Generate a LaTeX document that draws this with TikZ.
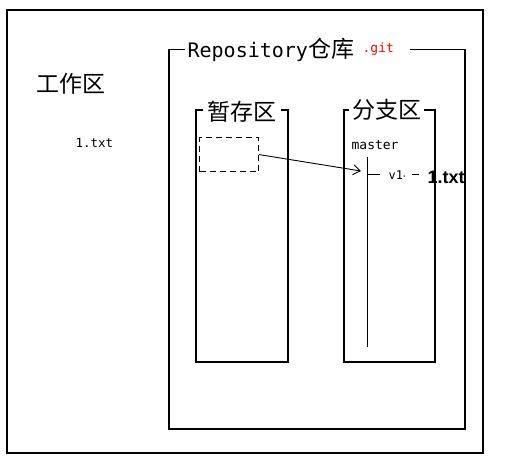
\documentclass[tikz,border=0pt]{standalone}
\usepackage{fontspec}
\setmainfont{DejaVu Sans Mono}
\newfontfamily\cjk{Noto Sans CJK SC}
\newfontfamily\boldsans{Liberation Sans}
\usetikzlibrary{arrows.meta}
\begin{document}
\begin{tikzpicture}[x=1pt,y=-1pt,line width=1.2pt,
  lbl/.style={inner sep=0pt,anchor=base west},
  cjkbig/.style={lbl,font=\cjk\fontsize{23}{23}\selectfont},
  mono/.style={lbl,font=\fontsize{13}{13}\selectfont}]
\useasboundingbox (0,0) rectangle (511,461);
% outer work area
\draw (7,10) rectangle (483,453);
% repository box
\draw (185,49.5) -- (169,49.5) -- (169,429) -- (465,429) -- (465,49.5) -- (410,49.5);
% stage box
\draw (203,110) -- (196,110) -- (196,362) -- (288,362) -- (288,110) -- (281,110);
% branch box
\draw (349,110) -- (344,110) -- (344,362) -- (435,362) -- (435,110) -- (424,110);

\node[cjkbig] (work) at (36,92.5) {工作区};
\node[mono,font=\fontsize{12.5}{12.5}\selectfont] (wfile) at (75,147) {1.txt};
\node[lbl] (repo) at (187,57) {\fontsize{20}{20}\selectfont Repository{\cjk\fontsize{23}{23}\selectfont 仓库}};
\node[mono,text=red] (git) at (362,52) {.git};
\node[cjkbig] (stage) at (207,120.5) {暂存区};
\node[cjkbig] (branch) at (352,118.5) {分支区};
\node[mono] (master) at (351,149) {master};

\node[draw,dash pattern=on 6pt off 4pt,minimum width=59pt,minimum height=34pt,inner sep=0pt,anchor=north west] (sfile) at (199,137) {};

\coordinate (mtop) at (367.5,157);
\coordinate (mbot) at (367.5,347);
\draw (mtop) -- (mbot);
\coordinate (tip) at (361,171);
\draw[-{Straight Barb[length=7pt,width=10pt,line width=0.9pt]},line width=0.9pt] (sfile.east) -- (tip);

\coordinate (bstart) at (368,174.5);
\coordinate (bend) at (380,174.5);
\draw (bstart) -- (bend);
\node[mono,font=\fontsize{12}{12}\selectfont] (v1) at (388,179) {v1};
\node[fill,circle,inner sep=0pt,minimum size=1.5pt] (dot) at (404,176) {};
\coordinate (d1) at (412,174.5);
\coordinate (d2) at (419,174.5);
\draw (d1) -- (d2);
\node[lbl,font=\boldsans\bfseries\fontsize{18}{18}\selectfont] (bfile) at (427,183) {1.txt};
\end{tikzpicture}
\end{document}
